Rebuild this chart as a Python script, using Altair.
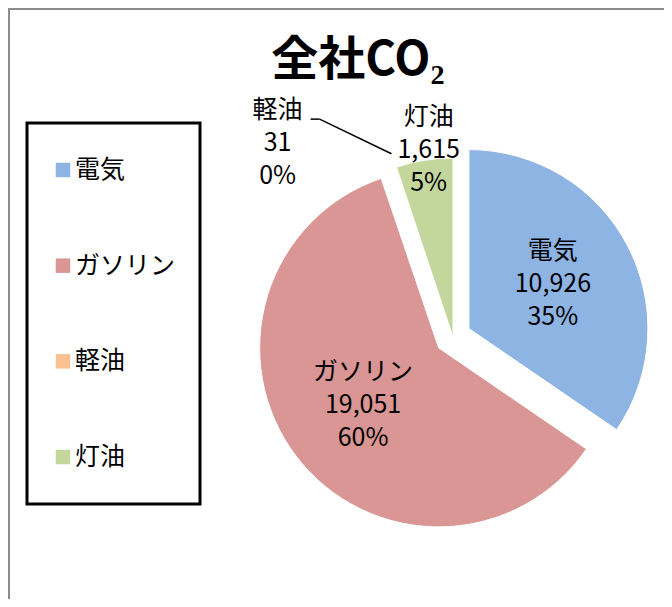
import altair as alt
import pandas as pd

# ---- data ----
TITLE = ["全社CO₂"]
categories = ["電気", "ガソリン", "軽油", "灯油"]
values = [10926, 19051, 31, 1615]
colors = ["#8EB4E3", "#D99694", "#FAC090", "#C3D69B"]

# ---- style / layout ----
FONT = "Noto Sans CJK JP"
W, H = 656, 591
CX, CY, R = 445, 329, 179
EXPLODE = {"電気": 18, "ガソリン": 18}
LABEL_K = {"電気": 0.53, "ガソリン": 0.53, "軽油": 1.06, "灯油": 1.06}
LABEL_DX = {"軽油": -115, "灯油": 6}
LABEL_DY = {"軽油": -14}
LINE_H = 33


def case_expr(d, default=0):
    expr = str(default)
    for k, v in d.items():
        expr = f"datum.cat == '{k}' ? {v} : ({expr})"
    return expr


df = pd.DataFrame({"cat": categories, "value": values, "order": list(range(len(categories)))})

base = (
    alt.Chart(df)
    .transform_joinaggregate(total="sum(value)")
    .transform_window(cum="sum(value)", sort=[alt.SortField("order")], frame=[None, 0])
    .transform_calculate(
        t0="2*PI*(datum.cum-datum.value)/datum.total",
        t1="2*PI*datum.cum/datum.total",
    )
    .transform_calculate(mid="(datum.t0+datum.t1)/2", ex=case_expr(EXPLODE))
    .transform_calculate(
        cx=f"{CX} + datum.ex*sin(datum.mid)",
        cy=f"{CY} - datum.ex*cos(datum.mid)",
        lk=case_expr(LABEL_K, 0.5),
        ldx=case_expr(LABEL_DX),
        ldy=case_expr(LABEL_DY),
        lab="[datum.cat, format(datum.value, ','), format(datum.value/datum.total, '.0%')]",
    )
    .transform_calculate(
        lx=f"datum.cx + datum.lk*{R}*sin(datum.mid) + datum.ldx",
        ly=f"datum.cy - datum.lk*{R}*cos(datum.mid) + datum.ldy",
    )
)

color = alt.Color("cat:N", scale=alt.Scale(domain=categories, range=colors), legend=None)

pie = base.mark_arc(radius=R, stroke="white", strokeWidth=1).encode(
    theta=alt.Theta("t0:Q", scale=None, stack=None),
    theta2=alt.Theta2("t1"),
    x=alt.X("cx:Q", scale=None, axis=None),
    y=alt.Y("cy:Q", scale=None, axis=None),
    color=color,
)

labels = base.mark_text(
    font=FONT, fontSize=25, lineHeight=LINE_H, align="center", baseline="middle",
    color="#000000", dy=-LINE_H
).encode(
    x=alt.X("lx:Q", scale=None, axis=None),
    y=alt.Y("ly:Q", scale=None, axis=None),
    text=alt.Text("lab:N"),
)

leader_base = base.transform_filter("datum.cat == '軽油'").transform_calculate(
    sx="datum.lx + 33",
    sx2="datum.lx + 42",
    sy="datum.ly - 24",
    ex2=f"{CX} + 1.08*{R}*sin(datum.mid)",
    ey2=f"{CY} - 1.08*{R}*cos(datum.mid)",
)
stub = leader_base.mark_rule(color="#000000", strokeWidth=1.5).encode(
    x=alt.X("sx:Q", scale=None, axis=None),
    x2=alt.X2("sx2"),
    y=alt.Y("sy:Q", scale=None, axis=None),
    y2=alt.Y2("sy"),
)
diag = leader_base.mark_rule(color="#000000", strokeWidth=1.5).encode(
    x=alt.X("sx2:Q", scale=None, axis=None),
    x2=alt.X2("ex2"),
    y=alt.Y("sy:Q", scale=None, axis=None),
    y2=alt.Y2("ey2"),
)

title = alt.Chart(pd.DataFrame({"t": TITLE})).mark_text(
    font=FONT, fontSize=47, fontWeight="bold", align="center", baseline="alphabetic", color="#000000"
).encode(x=alt.value(350), y=alt.value(67), text=alt.Text("t:N"))

# legend (drawn from the category list)
leg_y = alt.Y("cat:N", scale=alt.Scale(type="point", domain=categories, range=[162, 449], padding=0), axis=None, sort=categories)
leg_sq = alt.Chart(df).mark_square(size=210, opacity=1).encode(
    x=alt.value(55), y=leg_y, color=color
)
leg_tx = alt.Chart(df).mark_text(
    font=FONT, fontSize=25, align="left", baseline="middle", color="#000000"
).encode(x=alt.value(67), y=leg_y, text=alt.Text("cat:N"))
leg_box = alt.Chart(pd.DataFrame({"a": [0]})).mark_rect(
    fill=None, stroke="#000000", strokeWidth=3
).encode(x=alt.value(19), x2=alt.value(192), y=alt.value(115), y2=alt.value(496))

frame_top = alt.Chart(pd.DataFrame({"a": [0]})).mark_rule(color="#8c8c8c", strokeWidth=2).encode(
    x=alt.value(0), x2=alt.value(W), y=alt.value(1)
)
frame_left = alt.Chart(pd.DataFrame({"a": [0]})).mark_rule(color="#8c8c8c", strokeWidth=2).encode(
    x=alt.value(1), y=alt.value(0), y2=alt.value(H)
)

chart = (
    alt.layer(pie, labels, stub, diag, title, leg_box, leg_sq, leg_tx, frame_top, frame_left)
    .resolve_scale(y="independent", x="independent")
    .properties(width=W, height=H, padding=0, autosize="none")
    .configure_view(stroke=None)
)

chart.save("out.html", embed_options={"renderer": "svg", "actions": False})
